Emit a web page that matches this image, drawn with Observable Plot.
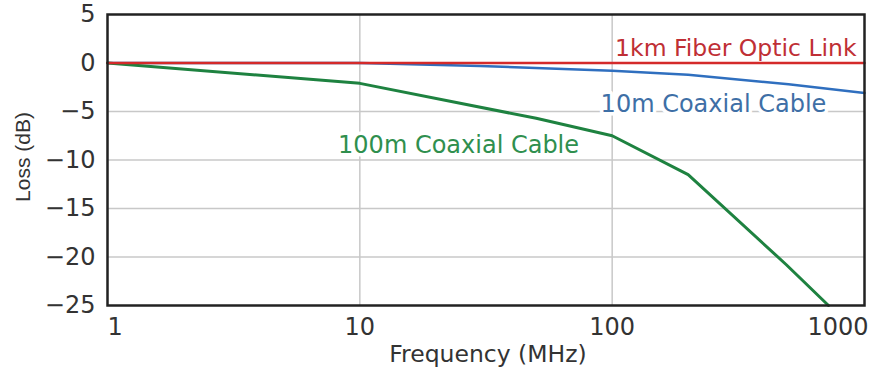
<!DOCTYPE html>
<html>
<head>
<meta charset="utf-8">
<script src="https://cdn.jsdelivr.net/npm/d3@7"></script>
<script src="https://cdn.jsdelivr.net/npm/@observablehq/plot@0.6"></script>
<style>
  html, body { margin: 0; padding: 0; background: #fff; }
</style>
</head>
<body>
<div id="chart"></div>
<script>
// Series (frequency in MHz, loss in dB)
const fiberFreq = [1, 1000];
const fiberLoss = [0, 0];
const coax10Freq = [1, 10, 30, 100, 200, 500, 1000];
const coax10Loss = [0, 0, -0.3, -0.8, -1.2, -2.2, -3.1];
const coax100Freq = [1, 10, 50, 100, 200, 490, 720];
const coax100Loss = [0, -2.1, -5.7, -7.5, -11.5, -20.8, -25];

// Labels
const seriesNames = ["1km Fiber Optic Link", "10m Coaxial Cable", "100m Coaxial Cable"];
const labelFreq = [930, 90, 8.2];
const labelLoss = [1.5, -4.3, -8.5];

// Ticks
const yTicks = [5, 0, -5, -10, -15, -20, -25];
const yGrid = [-5, -10, -15, -20];
const xGrid = [10, 100];
const xTicks = [1, 10, 100, 1000];
const xLabel = "Frequency (MHz)";
const yLabel = "Loss (dB)";

const colors = ["#d42a2a", "#2f6fbf", "#1e8240"];
const textColors = ["#bf2f35", "#3e6fa6", "#2f8f4e"];

const toRows = (fs, ls, name) => fs.map((f, i) => ({freq: f, loss: ls[i], name}));
const rows = [
  ...toRows(fiberFreq, fiberLoss, seriesNames[0]),
  ...toRows(coax10Freq, coax10Loss, seriesNames[1]),
  ...toRows(coax100Freq, coax100Loss, seriesNames[2])
];
const labels = seriesNames.map((n, i) => ({name: n, freq: labelFreq[i], loss: labelLoss[i], i}));

const font = "DejaVu Sans";
const tickFont = 24;

const chart = Plot.plot({
  width: 871,
  height: 367,
  marginLeft: 107,
  marginRight: 7,
  marginTop: 14,
  marginBottom: 62,
  style: {fontFamily: font, background: "#fff"},
  x: {type: "log", domain: [1, 1000]},
  y: {domain: [-25, 5]},
  marks: [
    Plot.gridY(yGrid, {stroke: "#c8c8c8", strokeOpacity: 1, strokeWidth: 1.5}),
    Plot.gridX(xGrid, {stroke: "#c8c8c8", strokeOpacity: 1, strokeWidth: 1.5}),
    Plot.line(rows.filter(d => d.name === seriesNames[1]), {x: "freq", y: "loss", stroke: colors[1], strokeWidth: 2.5}),
    Plot.line(rows.filter(d => d.name === seriesNames[2]), {x: "freq", y: "loss", stroke: colors[2], strokeWidth: 3}),
    Plot.line(rows.filter(d => d.name === seriesNames[0]), {x: "freq", y: "loss", stroke: colors[0], strokeWidth: 2.5}),
    Plot.text([labels[0]], {x: "freq", y: "loss", text: "name", fill: textColors[0], textAnchor: "end", fontSize: 23.5}),
    Plot.text([labels[1]], {x: "freq", y: "loss", text: "name", fill: textColors[1], textAnchor: "start", fontSize: 24, stroke: "white", strokeWidth: 7}),
    Plot.text([labels[2]], {x: "freq", y: "loss", text: "name", fill: textColors[2], textAnchor: "start", fontSize: 24, stroke: "white", strokeWidth: 7}),
    Plot.frame({stroke: "#222", strokeWidth: 2.5}),
    Plot.axisY(yTicks, {tickSize: 0, tickPadding: 12, fontSize: tickFont, fill: "#333", label: null}),
    Plot.axisX([xTicks[0]], {tickSize: 0, tickPadding: 12, fontSize: tickFont, fill: "#333", textAnchor: "start", label: null, tickFormat: d => String(d)}),
    Plot.axisX(xTicks.slice(1, 3), {tickSize: 0, tickPadding: 12, fontSize: tickFont, fill: "#333", label: null, tickFormat: d => String(d)}),
    Plot.axisX([xTicks[3]], {tickSize: 0, tickPadding: 12, fontSize: tickFont, fill: "#333", textAnchor: "end", dx: 4, label: null, tickFormat: d => String(d)}),
    Plot.text([xLabel], {frameAnchor: "bottom", dy: 56, dx: 2, text: d => d, fontSize: 23.5, fill: "#333"}),
    Plot.text([yLabel], {frameAnchor: "left", textAnchor: "middle", dx: -84, dy: -3, rotate: -90, text: d => d, fontSize: 21, fill: "#333", fontFamily: "Liberation Sans"})
  ]
});
document.getElementById("chart").appendChild(chart);
</script>
</body>
</html>
